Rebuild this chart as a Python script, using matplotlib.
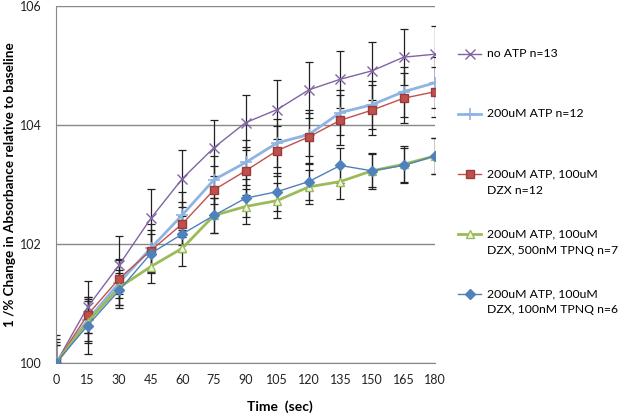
import matplotlib
matplotlib.use("Agg")
import matplotlib.pyplot as plt
import numpy as np

plt.rcParams['font.family'] = ['Lato', 'DejaVu Sans']

# time points (sec)
time = [0, 15, 30, 45, 60, 75, 90, 105, 120, 135, 150, 165, 180]

# series: mean values
no_atp = [100, 100.94, 101.65, 102.43, 103.10, 103.62, 104.04, 104.26, 104.59, 104.77, 104.91, 105.14, 105.19]
atp = [100, 100.72, 101.35, 101.93, 102.49, 103.08, 103.37, 103.70, 103.84, 104.21, 104.34, 104.56, 104.71]
atp_dzx = [100, 100.81, 101.42, 101.89, 102.34, 102.91, 103.23, 103.57, 103.80, 104.08, 104.25, 104.45, 104.56]
tpnq500 = [100, 100.69, 101.27, 101.62, 101.93, 102.48, 102.63, 102.73, 102.96, 103.05, 103.23, 103.34, 103.48]
tpnq100 = [100, 100.63, 101.22, 101.84, 102.17, 102.48, 102.77, 102.88, 103.05, 103.32, 103.23, 103.32, 103.48]

# error bars (SEM)
no_atp_err = [0.47, 0.43, 0.49, 0.50, 0.48, 0.47, 0.46, 0.50, 0.47, 0.48, 0.49, 0.47, 0.47]
atp_err = [0.40, 0.35, 0.38, 0.40, 0.38, 0.40, 0.38, 0.40, 0.36, 0.38, 0.40, 0.42, 0.43]
atp_dzx_err = [0.30, 0.30, 0.32, 0.35, 0.36, 0.40, 0.40, 0.42, 0.45, 0.42, 0.42, 0.42, 0.42]
tpnq500_err = [0.30, 0.35, 0.30, 0.27, 0.30, 0.30, 0.30, 0.30, 0.29, 0.30, 0.30, 0.30, 0.31]
tpnq100_err = [0.35, 0.48, 0.30, 0.32, 0.30, 0.30, 0.32, 0.32, 0.31, 0.30, 0.28, 0.30, 0.31]

# blank first line so the handle sits on the first text line (as in Excel)
labels = [
    " \nno ATP n=13\n ",
    " \n200uM ATP n=12\n ",
    " \n200uM ATP, 100uM\nDZX n=12",
    " \n200uM ATP, 100uM\nDZX, 500nM TPNQ n=7",
    " \n200uM ATP, 100uM\nDZX, 100nM TPNQ n=6",
]

fig = plt.figure(figsize=(6.19, 4.15), dpi=100)
ax = fig.add_axes([0.0905, 0.1253, 0.6125, 0.8602])

styles = [
    dict(color='#8064A2', marker='x', ms=7, lw=1.0, mew=1.0),
    dict(color='#8EB4E3', marker='+', ms=8, lw=2.0, mew=1.2),
    dict(color='#C0504D', marker='s', ms=6, lw=1.0, mfc='#C0504D', mec='#9A3B38'),
    dict(color='#9BBB59', marker='^', ms=6, lw=2.0, mfc='#EEF3E2', mec='#9BBB59'),
    dict(color='#4F81BD', marker='D', ms=5, lw=1.0, mfc='#4F81BD', mec='#4F81BD'),
]
series = [no_atp, atp, atp_dzx, tpnq500, tpnq100]
errors = [no_atp_err, atp_err, atp_dzx_err, tpnq500_err, tpnq100_err]

handles = []
for vals, errs, st, lab in zip(series, errors, styles, labels):
    ax.errorbar(time, vals, yerr=errs, fmt='none', ecolor='#222222',
                elinewidth=0.9, capsize=3, capthick=0.9, zorder=2)
    h, = ax.plot(time, vals, label=lab, zorder=3, **st)
    handles.append(h)

ax.set_xlim(0, 180)
ax.set_ylim(100, 106)
ax.set_xticks(time)
ax.set_yticks([100, 102, 104, 106])
ax.grid(axis='y', color='#888888', lw=1)
ax.set_axisbelow(True)
for s in ['top', 'right']:
    ax.spines[s].set_visible(False)
for s in ['left', 'bottom']:
    ax.spines[s].set_color('#888888')
ax.tick_params(length=0, labelsize=9, colors='#222222')
ax.tick_params(axis='x', pad=8)
ax.tick_params(axis='y', pad=10)

ax.set_xlabel('Time  (sec)', fontsize=10, fontweight='bold')
ax.set_ylabel('1 /% Change in Absorbance relative to baseline', fontsize=9.7,
              fontweight='bold')
ax.xaxis.set_label_coords(0.59, -0.105)
ax.yaxis.set_label_coords(-0.106, 0.5)

leg = fig.legend(handles=handles, labels=labels, loc='upper left',
                 bbox_to_anchor=(0.730, 0.937), frameon=False, fontsize=8.8,
                 numpoints=1, handlelength=1.9, handletextpad=0.5,
                 labelspacing=1.35, borderpad=0)
for t in leg.get_texts():
    t.set_linespacing(1.58)

fig.savefig('out.png', dpi=100)
